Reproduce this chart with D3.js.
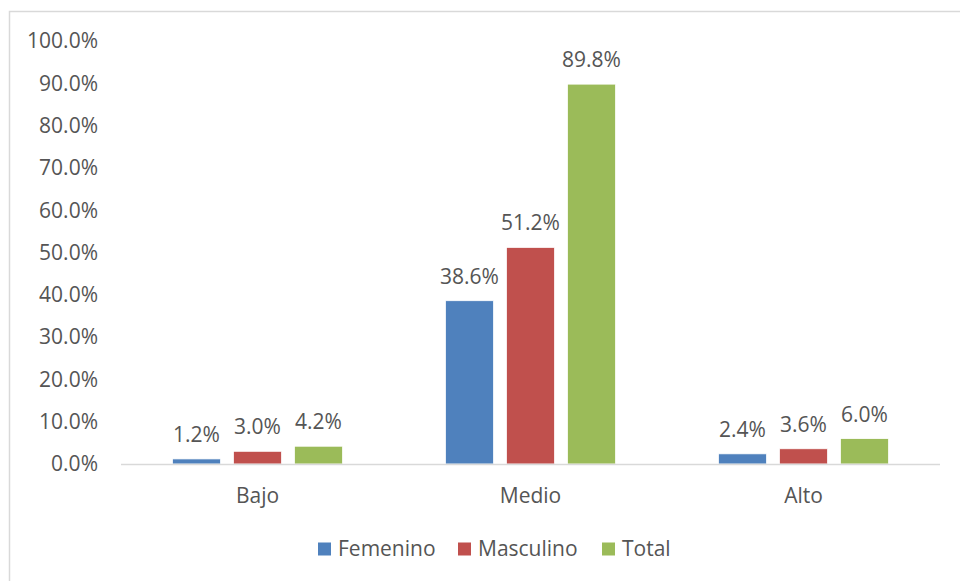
<!DOCTYPE html>
<html>
<head>
<meta charset="utf-8">
<script src="https://cdn.jsdelivr.net/npm/d3@7"></script>
<style>
  body { margin: 0; background: #fff; }
  svg text { font-family: "Open Sans", "Liberation Sans", sans-serif; fill: #555; }
</style>
</head>
<body>
<div id="chart"></div>
<script>
// Data
var categories = ["Bajo", "Medio", "Alto"];
var series = ["Femenino", "Masculino", "Total"];
var femenino = [1.2, 38.6, 2.4];
var masculino = [3.0, 51.2, 3.6];
var total = [4.2, 89.8, 6.0];
var yTicks = [0, 10, 20, 30, 40, 50, 60, 70, 80, 90, 100];
var colors = ["#4f81bd", "#c0504d", "#9bbb59"];

var values = [femenino, masculino, total];

var W = 960, H = 581;
var fontSize = "21px";

var svg = d3.select("#chart").append("svg")
    .attr("width", W)
    .attr("height", H);

// chart border (runs off the right / bottom edges)
svg.append("rect")
    .attr("x", 9.5).attr("y", 11.5)
    .attr("width", W + 10).attr("height", H + 10)
    .attr("fill", "none")
    .attr("stroke", "#d9d9d9")
    .attr("stroke-width", 1.5);

var x0 = d3.scaleBand()
    .domain(categories)
    .range([121, 940]);

var x1 = d3.scaleBand()
    .domain(series)
    .range([0, x0.bandwidth()])
    .paddingInner(0.213)
    .paddingOuter(0.844);

var y = d3.scaleLinear()
    .domain([0, 100])
    .range([464, 41]);

// y axis labels
svg.append("g").selectAll("text")
    .data(yTicks)
    .enter().append("text")
    .attr("x", 98)
    .attr("y", function(d) { return y(d); })
    .attr("dy", "0.35em")
    .attr("text-anchor", "end")
    .style("font-size", fontSize)
    .text(function(d) { return d.toFixed(1) + "%"; });

// bars
var groups = svg.append("g").selectAll("g")
    .data(categories)
    .enter().append("g")
    .attr("transform", function(d) { return "translate(" + x0(d) + ",0)"; });

groups.selectAll("rect")
    .data(function(d, i) {
        return series.map(function(s, j) { return {s: s, v: values[j][i], c: colors[j]}; });
    })
    .enter().append("rect")
    .attr("x", function(d) { return x1(d.s); })
    .attr("width", x1.bandwidth())
    .attr("y", function(d) { return y(d.v); })
    .attr("height", function(d) { return y(0) - y(d.v); })
    .attr("fill", function(d) { return d.c; })
    .attr("stroke", "#fff")
    .attr("stroke-width", 0.75);

// data labels
groups.selectAll("text.lbl")
    .data(function(d, i) {
        return series.map(function(s, j) { return {s: s, v: values[j][i]}; });
    })
    .enter().append("text")
    .attr("class", "lbl")
    .attr("x", function(d) { return x1(d.s) + x1.bandwidth() / 2; })
    .attr("y", function(d) { return y(d.v) - 17; })
    .attr("text-anchor", "middle")
    .style("font-size", fontSize)
    .text(function(d) { return d.v.toFixed(1) + "%"; });

// x axis line
svg.append("line")
    .attr("x1", 121).attr("x2", 940)
    .attr("y1", y(0) + 0.5).attr("y2", y(0) + 0.5)
    .attr("stroke", "#d9d9d9")
    .attr("stroke-width", 1.5);

// category labels
svg.append("g").selectAll("text")
    .data(categories)
    .enter().append("text")
    .attr("x", function(d) { return x0(d) + x0.bandwidth() / 2; })
    .attr("y", 496)
    .attr("dy", "0.35em")
    .attr("text-anchor", "middle")
    .style("font-size", fontSize)
    .text(function(d) { return d; });

// legend
var legendX = [318, 458, 602];
var legend = svg.append("g").selectAll("g")
    .data(series)
    .enter().append("g")
    .attr("transform", function(d, i) { return "translate(" + legendX[i] + ",549)"; });

legend.append("rect")
    .attr("x", 0).attr("y", -6.5)
    .attr("width", 13).attr("height", 13)
    .attr("fill", function(d, i) { return colors[i]; });

legend.append("text")
    .attr("x", 20)
    .attr("y", 0)
    .attr("dy", "0.35em")
    .style("font-size", fontSize)
    .text(function(d) { return d; });
</script>
</body>
</html>
